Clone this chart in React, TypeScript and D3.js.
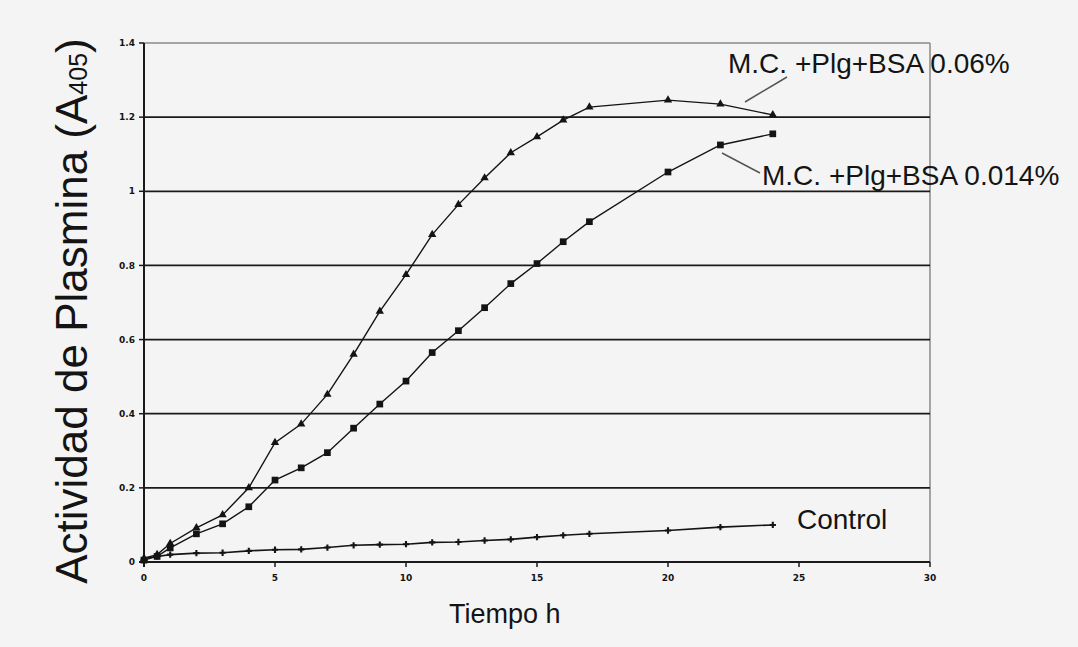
import React from "react";
import * as d3 from "d3";

const times = [0, 0.5, 1, 2, 3, 4, 5, 6, 7, 8, 9, 10, 11, 12, 13, 14, 15, 16, 17, 20, 22, 24];
const bsa006 = [0.01, 0.02, 0.05, 0.092, 0.127, 0.2, 0.322, 0.372, 0.452, 0.56, 0.676, 0.775, 0.883, 0.964, 1.036, 1.104, 1.147, 1.192, 1.227, 1.246, 1.235, 1.206];
const bsa0014 = [0.005, 0.015, 0.038, 0.076, 0.103, 0.149, 0.221, 0.254, 0.295, 0.361, 0.426, 0.488, 0.565, 0.624, 0.686, 0.751, 0.805, 0.864, 0.918, 1.052, 1.125, 1.155];
const control = [0.01, 0.015, 0.02, 0.024, 0.025, 0.03, 0.033, 0.034, 0.039, 0.045, 0.047, 0.048, 0.053, 0.054, 0.058, 0.061, 0.067, 0.072, 0.076, 0.085, 0.094, 0.1];

const yTicks = [0, 0.2, 0.4, 0.6, 0.8, 1, 1.2, 1.4];
const yTickLabels = ["0", "0.2", "0.4", "0.6", "0.8", "1", "1.2", "1.4"];
const xTicks = [0, 5, 10, 15, 20, 25, 30];
const xTickLabels = ["0", "5", "10", "15", "20", "25", "30"];

const label006 = "M.C. +Plg+BSA 0.06%";
const label0014 = "M.C. +Plg+BSA 0.014%";
const labelControl = "Control";
const xTitle = "Tiempo h";

export default function App() {
  const W = 1078, H = 647;
  const x = d3.scaleLinear().domain([0, 30]).range([144, 930]);
  const y = d3.scaleLinear().domain([0, 1.4]).range([562, 43]);
  const line = (vals: number[]) =>
    d3.line<number>().x((_, i) => x(times[i])).y((v) => y(v))(vals) || "";
  const tri = d3.symbol().type(d3.symbolTriangle).size(30)() || "";
  const sq = d3.symbol().type(d3.symbolSquare).size(45)() || "";
  const cross = d3.symbol().type(d3.symbolCross).size(22)() || "";
  const font = "'Liberation Sans', Arial, sans-serif";
  const ink = "#141414";

  return (
    <svg width={W} height={H} style={{ position: "absolute", left: 0, top: 0, background: "#f4f4f4" }}>
      <rect x={0} y={0} width={W} height={H} fill="#f4f4f4" />
      {/* plot border: top & right gray */}
      <line x1={x(0)} x2={x(30)} y1={y(1.4)} y2={y(1.4)} stroke="#8a8a8a" strokeWidth={1.5} />
      <line x1={x(30)} x2={x(30)} y1={y(1.4)} y2={y(0)} stroke="#8a8a8a" strokeWidth={1.5} />
      {/* gridlines */}
      {yTicks.filter((t) => t > 0 && t < 1.4).map((t) => (
        <line key={t} x1={x(0)} x2={x(30)} y1={y(t)} y2={y(t)} stroke="#1a1a1a" strokeWidth={1.8} />
      ))}
      {/* axes */}
      <line x1={x(0)} x2={x(0)} y1={y(1.4)} y2={y(0) + 5} stroke="#1a1a1a" strokeWidth={2} />
      <line x1={x(0) - 5} x2={x(30)} y1={y(0)} y2={y(0)} stroke="#1a1a1a" strokeWidth={2} />
      {yTicks.map((t, i) => (
        <g key={"yt" + t}>
          <line x1={x(0) - 5} x2={x(0)} y1={y(t)} y2={y(t)} stroke="#1a1a1a" strokeWidth={1.5} />
          <text x={x(0) - 9} y={y(t)} dy="0.35em" textAnchor="end" fontSize={9} fontWeight="bold" fontFamily="'DejaVu Sans', sans-serif" fill={ink}>
            {yTickLabels[i]}
          </text>
        </g>
      ))}
      {xTicks.map((t, i) => (
        <g key={"xt" + t}>
          <line x1={x(t)} x2={x(t)} y1={y(0)} y2={y(0) + 5} stroke="#1a1a1a" strokeWidth={1.5} />
          <text x={x(t)} y={y(0) + 16} dy="0.35em" textAnchor="middle" fontSize={9} fontWeight="bold" fontFamily="'DejaVu Sans', sans-serif" fill={ink}>
            {xTickLabels[i]}
          </text>
        </g>
      ))}
      {/* series lines */}
      <path d={line(control)} fill="none" stroke={ink} strokeWidth={1.6} />
      <path d={line(bsa0014)} fill="none" stroke={ink} strokeWidth={1.4} />
      <path d={line(bsa006)} fill="none" stroke={ink} strokeWidth={1.4} />
      {control.map((v, i) => (
        <path key={"c" + i} d={cross} transform={`translate(${x(times[i])},${y(v)})`} fill={ink} />
      ))}
      {bsa0014.map((v, i) => (
        <path key={"b" + i} d={sq} transform={`translate(${x(times[i])},${y(v)})`} fill={ink} />
      ))}
      {bsa006.map((v, i) => (
        <path key={"a" + i} d={tri} transform={`translate(${x(times[i])},${y(v)})`} fill={ink} />
      ))}
      {/* series labels with leader lines */}
      <line x1={745} y1={102} x2={787} y2={77} stroke="#555" strokeWidth={1.5} />
      <text x={728} y={73} fontSize={28} fontFamily={font} fill={ink}>{label006}</text>
      <line x1={722} y1={153} x2={760} y2={173} stroke="#555" strokeWidth={1.5} />
      <text x={762} y={185} fontSize={28} fontFamily={font} fill={ink}>{label0014}</text>
      <text x={797} y={529} fontSize={28} fontFamily={font} fill={ink}>{labelControl}</text>
      {/* axis titles */}
      <text x={449} y={623} fontSize={27} fontFamily={font} fill={ink}>{xTitle}</text>
      <text transform="translate(87,311) rotate(-90)" textAnchor="middle" fontSize={44} fontFamily={font} fill={ink}>
        Actividad de Plasmina (A<tspan fontSize={25}>405</tspan>)
      </text>
    </svg>
  );
}
